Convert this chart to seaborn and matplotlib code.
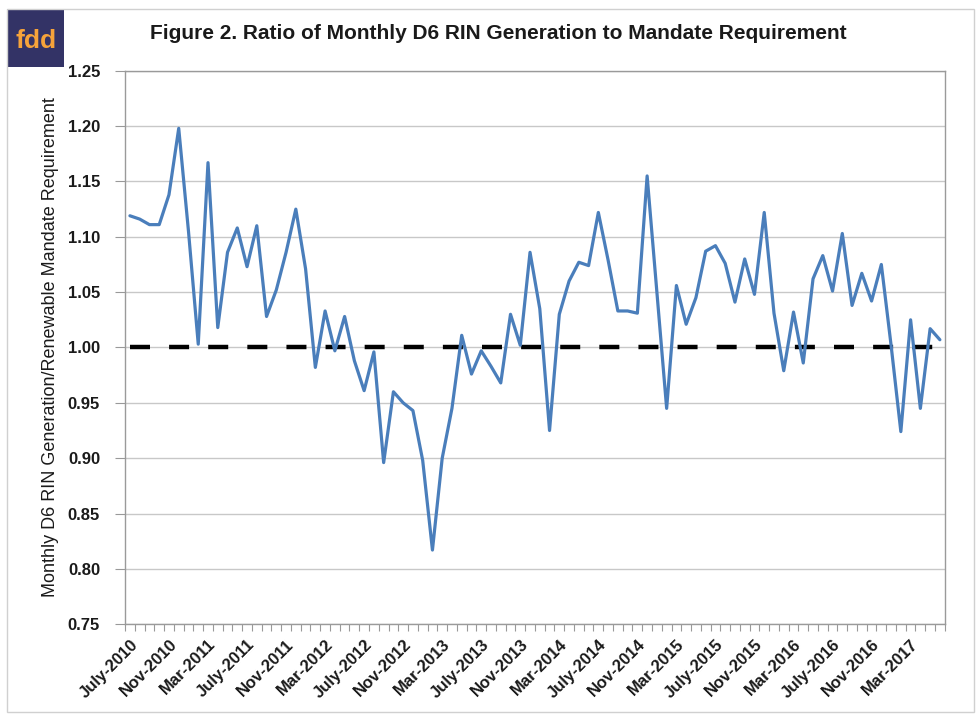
import matplotlib
matplotlib.use("Agg")
import matplotlib.pyplot as plt
import numpy as np
import pandas as pd
import seaborn as sns
from matplotlib.patches import Rectangle

# Monthly ratio, July 2010 .. June 2017
ratio = [
    1.119, 1.116, 1.111, 1.111, 1.138, 1.198, 1.105, 1.003, 1.167, 1.018,
    1.086, 1.108, 1.073, 1.110, 1.028, 1.052, 1.086, 1.125, 1.071, 0.982,
    1.033, 0.997, 1.028, 0.988, 0.961, 0.996, 0.896, 0.960, 0.950, 0.943,
    0.898, 0.817, 0.900, 0.945, 1.011, 0.976, 0.997, 0.983, 0.968, 1.030,
    1.002, 1.086, 1.035, 0.925, 1.030, 1.060, 1.077, 1.074, 1.122, 1.079,
    1.033, 1.033, 1.031, 1.155, 1.050, 0.945, 1.056, 1.021, 1.045, 1.087,
    1.092, 1.076, 1.041, 1.080, 1.048, 1.122, 1.031, 0.979, 1.032, 0.986,
    1.062, 1.083, 1.051, 1.103, 1.038, 1.067, 1.042, 1.075, 1.002, 0.924,
    1.025, 0.945, 1.017, 1.007,
]
mandate = [1.0] * len(ratio)

month_names = ["July", "Aug", "Sep", "Oct", "Nov", "Dec",
               "Jan", "Feb", "Mar", "Apr", "May", "June"]
start_year = 2010
labels = []
for i in range(len(ratio)):
    m = i % 12
    y = start_year + (i + 6) // 12
    labels.append(f"{month_names[m]}-{y}")

df = pd.DataFrame({"idx": np.arange(len(ratio)), "ratio": ratio, "mandate": mandate})

sns.set_theme(style="white")
plt.rcParams["font.family"] = ["Liberation Sans", "DejaVu Sans"]

fig = plt.figure(figsize=(9.77, 7.15), dpi=100)
ax = fig.add_axes([0.128, 0.127, 0.839, 0.774])

sns.lineplot(data=df, x="idx", y="mandate", ax=ax, color="black", linewidth=3.2,
             linestyle=(0, (4.5, 4.3)), zorder=2)
sns.lineplot(data=df, x="idx", y="ratio", ax=ax, color="#4a7ebb", linewidth=2.3, zorder=3)

ax.set_xlim(-0.5, len(ratio) - 0.5)
ax.set_ylim(0.75, 1.25)
yt = np.arange(0.75, 1.2501, 0.05)
ax.set_yticks(yt)
ax.set_yticklabels([f"{v:.2f}" for v in yt], fontsize=12, fontweight="bold",
                   color="#1a1a1a")
ax.yaxis.grid(True, color="#c8c8c8", linewidth=1)
ax.set_axisbelow(True)

major = list(range(0, len(ratio), 4))
ax.set_xticks(major)
ax.set_xticklabels([labels[i] for i in major], rotation=45, ha="right",
                   rotation_mode="anchor", fontsize=12, fontweight="bold",
                   color="#1a1a1a")
ax.set_xticks(np.arange(len(ratio) + 1) - 0.5, minor=True)
ax.tick_params(axis="x", which="major", length=0, pad=9)
ax.tick_params(axis="x", which="minor", length=5, color="#999999", width=0.8,
               direction="out", bottom=True)
ax.tick_params(axis="y", length=7, color="#999999", width=0.8, left=True, pad=11)

for s in ax.spines.values():
    s.set_color("#9a9a9a")
    s.set_linewidth(1)

ax.set_xlabel("")
ax.set_ylabel("Monthly D6 RIN Generation/Renewable Mandate Requirement",
              fontsize=13, color="#1a1a1a")
ax.yaxis.set_label_coords(-0.081, 0.5)

fig.text(0.51, 0.953, "Figure 2. Ratio of Monthly D6 RIN Generation to Mandate Requirement",
         ha="center", va="center", fontsize=15, fontweight="bold", color="#1a1a1a")

# logo
fig.patches.append(Rectangle((0.007, 0.906), 0.059, 0.081, transform=fig.transFigure,
                             facecolor="#333366", edgecolor="none"))
fig.text(0.0365, 0.943, "fdd", ha="center", va="center", fontsize=19,
         fontweight="bold", color="#f6a33a")
# chart border
fig.patches.append(Rectangle((0.007, 0.004), 0.990, 0.983, transform=fig.transFigure,
                             facecolor="none", edgecolor="#d0d0d0", linewidth=1))

fig.savefig("out.png", dpi=100)
